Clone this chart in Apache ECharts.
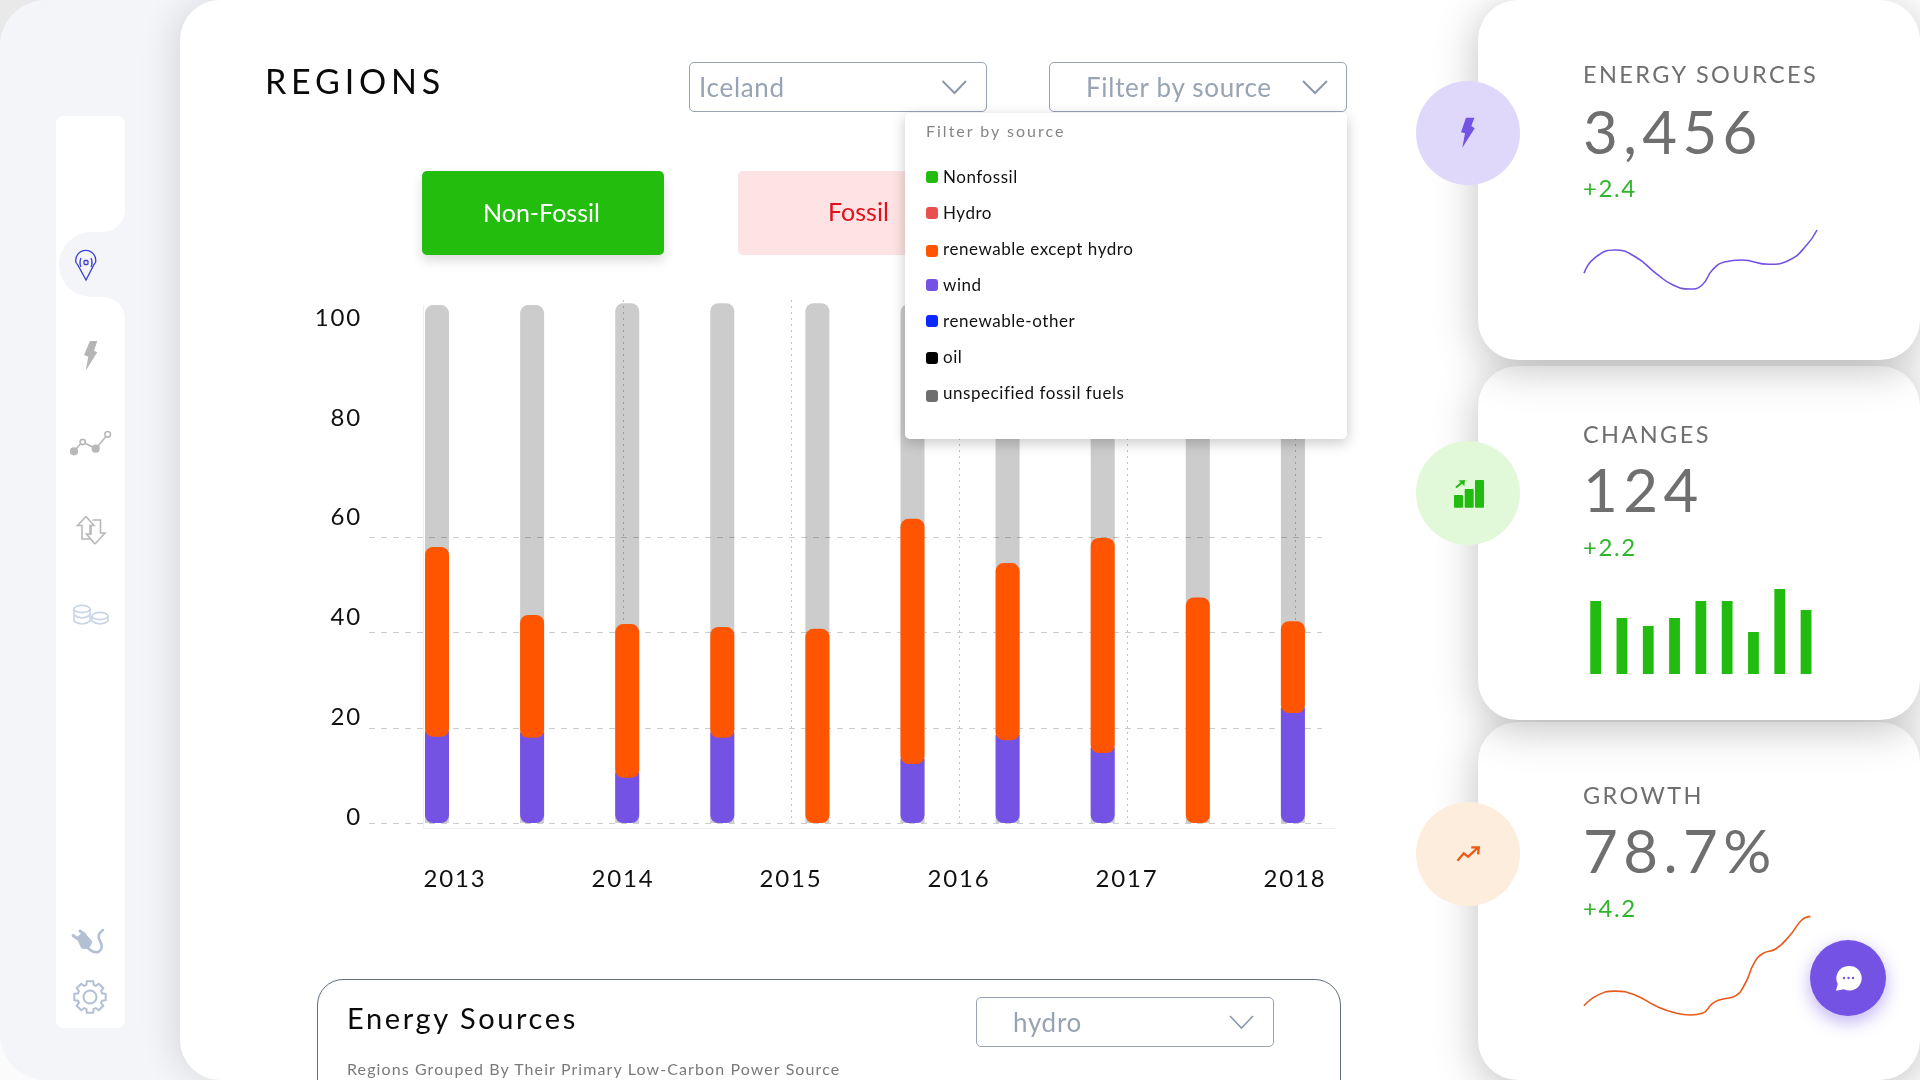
<!DOCTYPE html>
<html><head><meta charset="utf-8"><title>Regions</title>
<script src="https://cdn.jsdelivr.net/npm/echarts@6/dist/echarts.min.js"></script>
<style>
html,body{margin:0;padding:0;width:1920px;height:1080px;overflow:hidden;background:linear-gradient(#e9e9e9,#fbfbfb);font-family:Lato,"Open Sans",sans-serif}
.abs{position:absolute;box-sizing:border-box}
.t{position:absolute;transform:translateY(-50%);white-space:nowrap;line-height:1.2}
#side{left:0;top:0;width:400px;height:1080px;background:#f3f5f8;border-radius:46px 0 0 46px;z-index:1}
#main{left:180px;top:0;width:1740px;height:1080px;background:#fff;border-radius:40px 0 0 40px;box-shadow:-8px 0 34px rgba(0,0,0,.10);z-index:2}
.sw{background:#fff;left:56px;width:69px;z-index:3}
.card{left:1478px;width:442px;background:#fff;border-radius:40px;box-shadow:0 8px 44px rgba(0,0,0,.25);z-index:3}
.circ{left:1416px;width:104px;height:104px;border-radius:50%;z-index:6}
.box{border:1px solid #98a3b3;border-radius:5px;height:50px;background:#fff;z-index:4}
#chart{left:0;top:0;width:1920px;height:1080px;z-index:5}
.over{z-index:7}
.lab{color:#6f6f6f;font-size:23.5px;letter-spacing:2.4px;left:1583px;z-index:7}
.num{color:#6f6f6f;font-size:60px;letter-spacing:5.4px;left:1583px;z-index:7}
.dlt{color:#2fb52a;font-size:24px;letter-spacing:1.6px;left:1583px;z-index:7}
.ph{color:#98a3b3;font-size:26px;letter-spacing:.7px;z-index:7}
.item{left:943px;font-size:17px;letter-spacing:.55px;color:#111;z-index:9}
.dot{left:926px;width:12px;height:12px;border-radius:3px;z-index:9}
</style></head><body>
<div id="side" class="abs"></div>
<div id="main" class="abs"></div>

<div class="abs sw" style="top:116px;height:912px;border-radius:8px"></div>
<div class="abs" style="left:103px;width:22px;top:205px;height:115px;background:#f3f5f8;z-index:3"></div>
<div class="abs sw" style="top:116px;height:116px;border-radius:8px 8px 22px 0"></div>
<div class="abs sw" style="top:297px;height:731px;border-radius:0 22px 8px 8px"></div>
<div class="abs" style="left:59px;width:66px;top:232px;height:65px;background:#f3f5f8;border-radius:33px 0 0 33px;z-index:3"></div>

<div class="abs card" style="top:722px;height:358px"></div>
<div class="abs card" style="top:366px;height:354px"></div>
<div class="abs card" style="top:0;height:360px"></div>
<div class="abs circ" style="top:81px;background:#dfd8fb"></div>
<div class="abs circ" style="top:441px;background:#e1f9d9"></div>
<div class="abs circ" style="top:802px;background:#fdeddc"></div>

<div class="abs" style="left:423px;top:305px;width:1px;height:523px;background:#eee;z-index:3"></div>
<div class="abs" style="left:423px;top:828px;width:912px;height:1px;background:#eee;z-index:3"></div>

<div id="chart" class="abs"></div>

<div class="t over" style="left:265px;top:81px;font-size:34px;letter-spacing:4.8px;color:#0a0a0a">REGIONS</div>
<div class="abs box" style="left:689px;top:62px;width:298px"></div>
<div class="t ph" style="left:699px;top:88px">Iceland</div>
<div class="abs box" style="left:1049px;top:62px;width:298px"></div>
<div class="t ph" style="left:1086px;top:88px">Filter by source</div>

<div class="abs" style="left:422px;top:171px;width:242px;height:84px;background:#22bd0d;border-radius:5px;box-shadow:0 6px 12px rgba(0,0,0,.14);z-index:4"></div>
<div class="t over" style="left:483px;top:212px;font-size:25px;color:#fff">Non-Fossil</div>
<div class="abs" style="left:738px;top:171px;width:242px;height:84px;background:#fde3e3;border-radius:5px;z-index:4"></div>
<div class="t over" style="left:828px;top:211px;font-size:25px;color:#e0111c">Fossil</div>

<div class="abs" style="left:905px;top:113px;width:442px;height:326px;background:#fff;border-radius:5px;box-shadow:0 4px 14px rgba(0,0,0,.22);z-index:8"></div>
<div class="t" style="left:926px;top:131px;font-size:16px;letter-spacing:2px;color:#858585;z-index:9">Filter by source</div>
<div class="abs dot" style="top:171px;background:#22bb0f"></div><div class="t item" style="top:177px">Nonfossil</div>
<div class="abs dot" style="top:207px;background:#e85050"></div><div class="t item" style="top:213px">Hydro</div>
<div class="abs dot" style="top:245px;background:#ff5500"></div><div class="t item" style="top:249px">renewable except hydro</div>
<div class="abs dot" style="top:279px;background:#7452e4"></div><div class="t item" style="top:285px">wind</div>
<div class="abs dot" style="top:315px;background:#0a28ff"></div><div class="t item" style="top:321px">renewable-other</div>
<div class="abs dot" style="top:352px;background:#000"></div><div class="t item" style="top:357px">oil</div>
<div class="abs dot" style="top:390px;background:#6e6e6e"></div><div class="t item" style="top:393px">unspecified fossil fuels</div>

<div class="abs" style="left:317px;top:979px;width:1024px;height:130px;border:1px solid #5f7080;border-radius:26px;z-index:4"></div>
<div class="t over" style="left:347px;top:1018px;font-size:29px;letter-spacing:2.6px;color:#0a0a0a">Energy Sources</div>
<div class="abs box" style="left:976px;top:997px;width:298px"></div>
<div class="t ph" style="left:1013px;top:1023px">hydro</div>
<div class="t over" style="left:347px;top:1069px;font-size:16px;letter-spacing:1.1px;color:#7a7a7a">Regions Grouped By Their Primary Low-Carbon Power Source</div>

<div class="t lab" style="top:74px">ENERGY SOURCES</div>
<div class="t num" style="top:131px">3,456</div>
<div class="t dlt" style="top:188px">+2.4</div>
<div class="t lab" style="top:434px">CHANGES</div>
<div class="t num" style="top:489px">124</div>
<div class="t dlt" style="top:547px">+2.2</div>
<div class="t lab" style="top:795px">GROWTH</div>
<div class="t num" style="top:850px">78.7%</div>
<div class="t dlt" style="top:908px">+4.2</div>

<div class="abs" style="left:1810px;top:940px;width:76px;height:76px;border-radius:50%;background:#7452e4;box-shadow:0 6px 18px rgba(116,82,228,.45);z-index:7"></div>

<svg class="abs" style="left:0;top:0;z-index:10;pointer-events:none" width="1920" height="1080" viewBox="0 0 1920 1080" fill="none">
  <g stroke="#3d41d2" stroke-width="1.3">
    <path d="M86 280 L77.5 264.5 A10 10 0 0 1 76 262.5 A10 10 0 1 1 95.5 262.5 A10 10 0 0 1 94 264.5 Z"/>
    <rect x="84" y="260.5" width="4" height="4" rx="1"/>
    <path d="M81 258 Q79 262.5 81 267 M91 258 Q93 262.5 91 267"/>
  </g>
  <polygon points="90,341 97.3,341 94,350.7 97.3,352.3 85.7,370.7 88.3,356.7 84,355" fill="#b5b5b5"/>
  <g stroke="#b8b8b8" stroke-width="1.6">
    <path d="M75.5 449.5 L80.5 444 M85.5 443.5 L93 447.3 M98 446 L105.5 437"/>
    <circle cx="74" cy="451.3" r="3.3" fill="#b8b8b8"/><circle cx="82.7" cy="442" r="2.6"/>
    <circle cx="95.7" cy="448.7" r="3.3" fill="#b8b8b8"/><circle cx="107.7" cy="434.3" r="2.8"/>
    <path d="M86 516.5 L77.5 525.5 H82 V539 H90 M86 516.5 L94 525.5 H90 V535"/>
    <path d="M95 544 L105 533 H100.5 V520 H92.5 M95 544 L86.5 534 H91 V525"/>
  </g>
  <g stroke="#c9d4e5" stroke-width="1.6">
    <ellipse cx="82" cy="609" rx="8" ry="3.6"/><path d="M74 609 V621 Q82 627 90 621 V609 M74 615 Q82 621 90 615"/>
    <ellipse cx="100" cy="616" rx="8" ry="3.6"/><path d="M92 616 V621 Q100 627 108 621 V616"/>
  </g>
  <g fill="#b3c0d4" stroke="#b3c0d4">
    <path d="M77 937.5 L83.5 932 L91.5 941 Q91 948 86 948.5 L81.5 948 Z" stroke-width="1"/>
    <path d="M73 935.5 L78 939 M80 931 L85 935" stroke-width="3" stroke-linecap="round"/>
    <path d="M88 948 Q94 954 99 951.5 Q104 948 100 941 Q96 935 103 930" fill="none" stroke-width="2.6" stroke-linecap="round"/>
  </g>
  <g stroke="#b3c0d4" fill="none" stroke-width="2">
    <path id="gear"/>
    <circle cx="90" cy="997" r="6.5"/>
  </g>
  <polyline points="942.5,81 954.5,93 966,81" stroke="#8b99ad" stroke-width="2"/>
  <polyline points="1303,81 1315,93 1327,81" stroke="#8b99ad" stroke-width="2"/>
  <polyline points="1230,1016 1241.5,1028 1253,1016" stroke="#8b99ad" stroke-width="1.6"/>
  <polygon points="1466,117.7 1474.4,117.7 1471.3,126 1474.7,128.3 1462.3,147.7 1465,133.3 1461,132.3" fill="#7452e4"/>
  <g fill="#22bb0f"><rect x="1454" y="495" width="9" height="12.7" rx="1"/><rect x="1464.7" y="489" width="9" height="18.7" rx="1"/><rect x="1475" y="480" width="9" height="27.7" rx="1"/>
  <path d="M1456 487.5 L1462 482.5" stroke="#22bb0f" stroke-width="2"/><polygon points="1458.5,480.5 1465,480 1464.3,486"/></g>
  <path d="M1457.5 860.7 L1463.7 853.3 L1468.2 856.7 L1477.5 848 M1471.3 847.3 H1478.8 L1478.1 854.3" stroke="#ee5a16" stroke-width="2.3"/>
  <path d="M1848.5 966 A12.3 12.3 0 1 1 1844 989.3 L1836 990.7 L1837.7 984 A12.3 12.3 0 0 1 1848.5 966 Z" fill="#fff"/>
  <g fill="#7452e4"><circle cx="1844" cy="978" r="1.2"/><circle cx="1848.5" cy="978" r="1.2"/><circle cx="1853" cy="978" r="1.2"/></g>
</svg>

<script>
// main stacked bars (values read against the dashed gridlines)
const barSlots = ['1','2','3','4','5','6','7','8','9','10'];
const totalTop = [108.8,108.8,109.2,109.2,109.2,109,109,109,109,109];
const orangeTop = [58.0,43.7,41.8,41.2,40.8,63.9,54.6,59.9,47.4,42.4];
const orangeBase = [18.1,17.9,9.5,17.9,0,12.4,17.4,14.7,0,23.1];
const windTop = [19.2,19.0,10.6,19.0,0,13.5,18.5,15.8,0,24.2];
// axes
const yearLabels = ['2013','2014','2015','2016','2017','2018'];
const gridTicks = {min:0,max:60,interval:20};
const labelTicks = {min:0,max:100,interval:20};
// sparkline: energy sources
const spark1X = [0,4.4,13.2,22,30.9,38.2,45.6,50.7,55.1,60.3,67.6,79.4,88.2,95.6,100];
const spark1Y = [16.7,31.7,40,33.3,16.7,5,1,5,20,28,30,25.7,30,45,60];
// mini bars: changes
const changeCats = ['1','2','3','4','5','6','7','8','9'];
const changeVals = [73,56,48,56,73,73,42,85,64];
// sparkline: growth
const spark3X = [0,6.1,13.6,22.7,31.8,40.9,47,52.3,56.8,60.6,66.7,71.2,75,78.8,84.8,90.9,96.2,100];
const spark3Y = [9.3,20,24,20,9,1.7,0,1.7,11.7,15.7,19,31.7,51.7,61.7,66.7,80,95.7,99.3];

// settings-gear outline for the sidebar icon
(function(){
  let d = '';
  for (let k = 0; k < 8; k++) {
    const a = k * Math.PI / 4;
    const pts = [[-0.30,12.5],[-0.20,16],[0.20,16],[0.30,12.5]];
    pts.forEach(([o, r], j) => {
      const x = 90 + r * Math.sin(a + o), y = 997 - r * Math.cos(a + o);
      d += (k === 0 && j === 0 ? 'M' : 'L') + x.toFixed(1) + ' ' + y.toFixed(1) + ' ';
    });
  }
  document.getElementById('gear').setAttribute('d', d + 'Z');
})();

const pairs = (xs, ys) => xs.map((x, i) => [x, ys[i]]);
const orangeHeight = orangeTop.map((v, i) => +(v - orangeBase[i]).toFixed(1));
const hidden = {show:false};
const axisFont = 'Lato';
const dash = {show:true,lineStyle:{color:'rgba(0,0,0,0.2)',type:[6,6],width:1}};

const option = {
  animation:false,
  backgroundColor:'transparent',
  tooltip:{show:false},
  grid:[
    {left:389.45,width:951,top:251.8,height:571.2},
    {left:369,width:953,top:537.4,height:285.6},
    {left:423,width:912,top:318,height:499},
    {left:455,width:840,top:300,height:523},
    {left:1584,width:233,top:230,height:60},
    {left:1582.5,width:236.7,top:589,height:85},
    {left:1584,width:226.4,top:915.7,height:99.3}
  ],
  xAxis:[
    {gridIndex:0,type:'category',data:barSlots,show:false},
    {gridIndex:1,type:'value',min:0,max:1,show:false},
    {gridIndex:2,type:'value',min:0,max:1,show:false},
    {gridIndex:3,type:'category',data:yearLabels,boundaryGap:false,z:2,
      axisLine:hidden,axisTick:hidden,
      axisLabel:{interval:0,margin:44,fontFamily:axisFont,fontSize:24,color:'#111'},
      splitLine:{show:true,interval:(i)=>i>0,lineStyle:{color:'rgba(0,0,0,0.24)',type:[2,4],width:1}}},
    {gridIndex:4,type:'value',min:0,max:100,show:false},
    {gridIndex:5,type:'category',data:changeCats,show:false},
    {gridIndex:6,type:'value',min:0,max:100,show:false}
  ],
  yAxis:[
    {gridIndex:0,type:'value',min:0,max:120,show:false},
    {gridIndex:1,type:'value',...gridTicks,z:2,axisLine:hidden,axisTick:hidden,axisLabel:hidden,splitLine:dash},
    {gridIndex:2,type:'value',...labelTicks,axisLine:hidden,axisTick:hidden,splitLine:hidden,
      axisLabel:{margin:61,fontFamily:axisFont,fontSize:24,color:'#111'}},
    {gridIndex:3,type:'value',min:0,max:1,show:false},
    {gridIndex:4,type:'value',min:0,max:60,show:false},
    {gridIndex:5,type:'value',min:0,max:85,show:false},
    {gridIndex:6,type:'value',min:0,max:100,show:false}
  ],
  series:[
    {name:'Fossil',type:'bar',xAxisIndex:0,yAxisIndex:0,z:1,barWidth:24,barGap:'-100%',data:totalTop,
      itemStyle:{color:'#cccccc',borderRadius:[8,8,0,0]}},
    {name:'wind',type:'bar',xAxisIndex:0,yAxisIndex:0,z:3,barWidth:24,barGap:'-100%',data:windTop,
      itemStyle:{color:'#7452e4',borderRadius:[0,0,8,8]}},
    {name:'base',type:'bar',stack:'renew',xAxisIndex:0,yAxisIndex:0,z:3,barWidth:24,barGap:'-100%',data:orangeBase,
      itemStyle:{color:'transparent'}},
    {name:'renewable except hydro',type:'bar',stack:'renew',xAxisIndex:0,yAxisIndex:0,z:4,barWidth:24,barGap:'-100%',data:orangeHeight,
      itemStyle:{color:'#ff5500',borderRadius:8}},
    {name:'Energy sources',type:'line',xAxisIndex:4,yAxisIndex:4,smooth:0.5,showSymbol:false,clip:false,data:pairs(spark1X,spark1Y),
      lineStyle:{color:'#7452e4',width:1.6}},
    {name:'Changes',type:'bar',xAxisIndex:5,yAxisIndex:5,barWidth:10.8,data:changeVals,itemStyle:{color:'#22bb0f'}},
    {name:'Growth',type:'line',xAxisIndex:6,yAxisIndex:6,smooth:0.5,showSymbol:false,clip:false,data:pairs(spark3X,spark3Y),
      lineStyle:{color:'#e8581a',width:1.6}}
  ]
};
const chart = echarts.init(document.getElementById('chart'), null, {renderer:'canvas'});
chart.setOption(option);
// the reference's axis labels are letter-spaced: apply it on the canvas, then repaint
const cv = document.querySelector('#chart canvas');
if (cv) { cv.getContext('2d').letterSpacing = '1.8px'; chart.setOption(option, {notMerge:true}); }
</script>
</body></html>
